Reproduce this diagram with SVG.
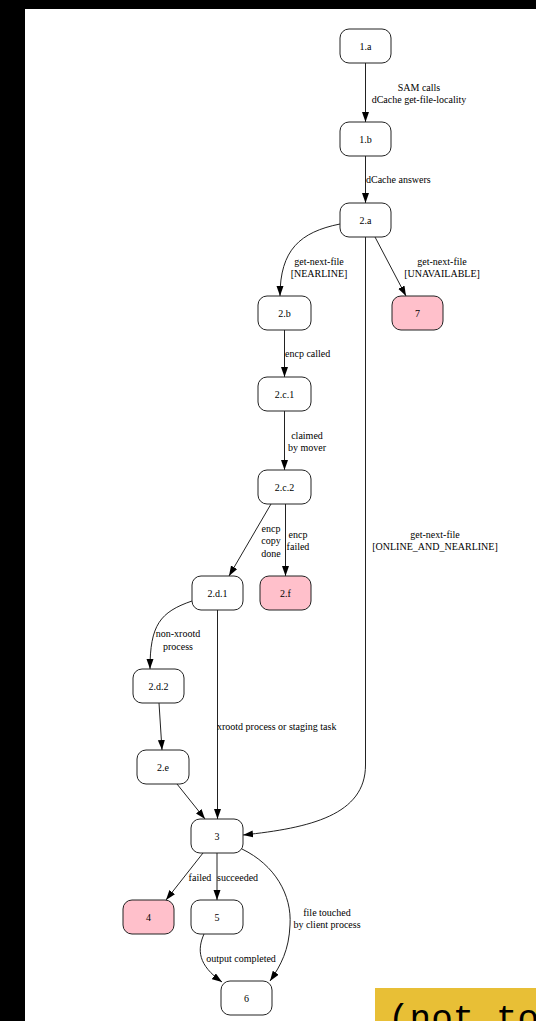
<svg xmlns="http://www.w3.org/2000/svg" width="536" height="1021" viewBox="0 0 536 1021">
<style>
.n rect{fill:#fff;stroke:#222;stroke-width:1}
.n.p rect{fill:#ffc0cb}
.n text{font-family:"Liberation Serif",serif;font-size:10px;fill:#000;text-anchor:middle}
.e path{fill:none;stroke:#222;stroke-width:1;marker-end:url(#ah)}
.l text{font-family:"Liberation Serif",serif;font-size:10px;fill:#000}
.m{text-anchor:middle}
</style>
<defs>
<marker id="ah" markerUnits="userSpaceOnUse" markerWidth="10" markerHeight="8" refX="10" refY="3.5" orient="auto">
<path d="M0,0 L10,3.5 L0,7 z" fill="#000"/>
</marker>
</defs>
<rect x="0" y="0" width="536" height="1021" fill="#000"/>
<rect x="25" y="9" width="511" height="1012" fill="#fff"/>

<g id="connectors" class="e">
<path d="M365.5,63 L365.5,122"/>
<path d="M365.5,156 L365.5,203"/>
<path d="M340,224 C300,232 280,250 280,296"/>
<path d="M375,237 L406,296"/>
<path d="M365.5,237 L365.5,765 C365.5,815 310,828 243,835"/>
<path d="M284.5,330 L284.5,377"/>
<path d="M284.5,411 L284.5,470"/>
<path d="M271,504 L229,576"/>
<path d="M285.5,504 L285.5,576"/>
<path d="M192,601 C160,612 150,625 150,669"/>
<path d="M217.5,610 L217.5,819"/>
<path d="M159,703 L162,750"/>
<path d="M177,784 L205,819"/>
<path d="M203,853 L166,900"/>
<path d="M217,853 L217,900"/>
<path d="M242,849 C275,865 292,895 290,925 C289,950 281,965 270,981"/>
<path d="M204,934 C197,950 198,965 222,982"/>
</g>

<g id="edge-labels" class="l">
<text class="m" x="419" y="90.5">SAM calls</text>
<text class="m" x="419" y="102.5">dCache get-file-locality</text>
<text x="366" y="182.5">dCache answers</text>
<text class="m" x="319" y="264.5">get-next-file</text>
<text class="m" x="319" y="276.5">[NEARLINE]</text>
<text class="m" x="442" y="264.5">get-next-file</text>
<text class="m" x="442" y="276.5">[UNAVAILABLE]</text>
<text x="285" y="356.5">encp called</text>
<text class="m" x="307" y="438.5">claimed</text>
<text class="m" x="307" y="450.5">by mover</text>
<text class="m" x="271" y="531.5">encp</text>
<text class="m" x="271" y="544">copy</text>
<text class="m" x="271" y="556.5">done</text>
<text class="m" x="298" y="537.5">encp</text>
<text class="m" x="298" y="550">failed</text>
<text class="m" x="435" y="537.5">get-next-file</text>
<text class="m" x="435" y="550">[ONLINE_AND_NEARLINE]</text>
<text class="m" x="178" y="636.5">non-xrootd</text>
<text class="m" x="178" y="649.5">process</text>
<text x="217" y="729.5">xrootd process or staging task</text>
<text class="m" x="200" y="880.5">failed</text>
<text x="217" y="880.5">succeeded</text>
<text class="m" x="327" y="915.5">file touched</text>
<text class="m" x="327" y="927.5">by client process</text>
<text class="m" x="241" y="961.5">output completed</text>
</g>

<g id="n1a" class="n"><rect x="340" y="29" width="51" height="34" rx="9"/><text x="365.5" y="49.5">1.a</text></g>
<g id="n1b" class="n"><rect x="340" y="122" width="51" height="34" rx="9"/><text x="365.5" y="142.5">1.b</text></g>
<g id="n2a" class="n"><rect x="340" y="203" width="51" height="34" rx="9"/><text x="365.5" y="223.5">2.a</text></g>
<g id="n2b" class="n"><rect x="258" y="296" width="53" height="34" rx="9"/><text x="284.5" y="316.5">2.b</text></g>
<g id="n7" class="n p"><rect x="392" y="296" width="51" height="34" rx="9"/><text x="417.5" y="316.5">7</text></g>
<g id="n2c1" class="n"><rect x="258" y="377" width="53" height="34" rx="9"/><text x="284.5" y="397.5">2.c.1</text></g>
<g id="n2c2" class="n"><rect x="258" y="470" width="53" height="34" rx="9"/><text x="284.5" y="490.5">2.c.2</text></g>
<g id="n2d1" class="n"><rect x="192" y="576" width="51" height="34" rx="9"/><text x="217.5" y="596.5">2.d.1</text></g>
<g id="n2f" class="n p"><rect x="260" y="576" width="51" height="34" rx="9"/><text x="285.5" y="596.5">2.f</text></g>
<g id="n2d2" class="n"><rect x="133" y="669" width="51" height="34" rx="9"/><text x="158.5" y="689.5">2.d.2</text></g>
<g id="n2e" class="n"><rect x="137" y="750" width="52" height="34" rx="9"/><text x="163" y="770.5">2.e</text></g>
<g id="n3" class="n"><rect x="191" y="819" width="52" height="34" rx="9"/><text x="217" y="839.5">3</text></g>
<g id="n4" class="n p"><rect x="123" y="900" width="51" height="34" rx="9"/><text x="148.5" y="920.5">4</text></g>
<g id="n5" class="n"><rect x="191" y="900" width="52" height="34" rx="9"/><text x="217" y="920.5">5</text></g>
<g id="n6" class="n"><rect x="221" y="981" width="51" height="34" rx="9"/><text x="246.5" y="1001.5">6</text></g>

<g id="note">
<rect x="375" y="988" width="161" height="33" fill="#e8bf36"/>
<text x="388" y="1030" font-family="Liberation Mono, monospace" font-size="36" fill="#000">(not to</text>
</g>
</svg>
